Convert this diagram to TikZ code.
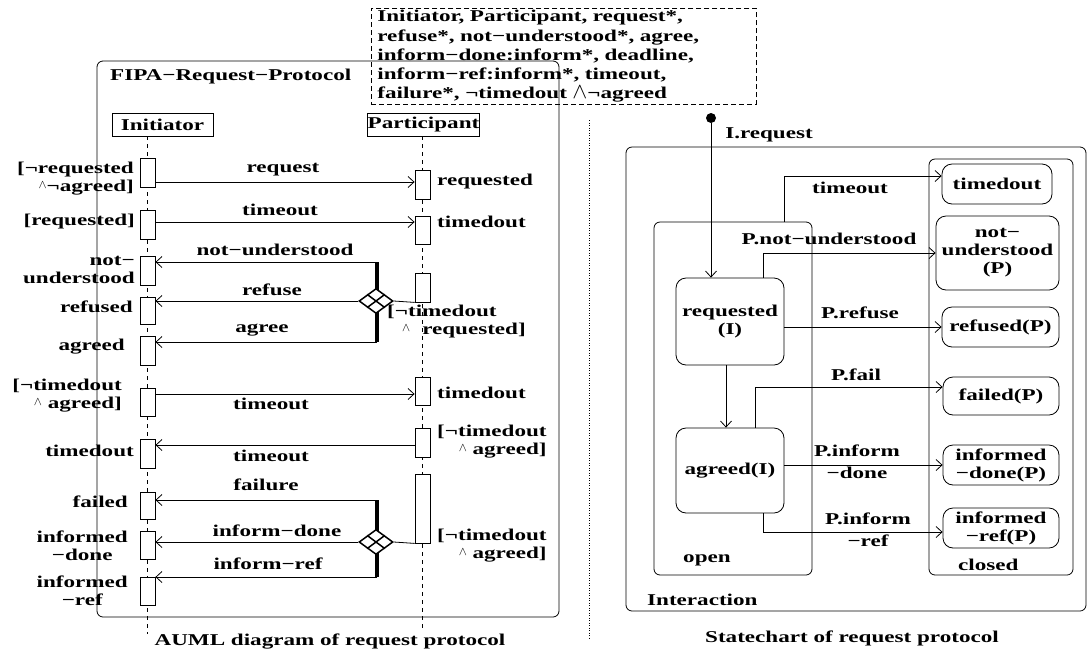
\documentclass[tikz,border=0pt]{standalone}
\usepackage{fontspec}
\setmainfont{Liberation Serif}[FakeStretch=1.4]
\usetikzlibrary{arrows.meta,shapes.geometric,calc}

% small and large conjunction signs used in the guards
\newcommand\wdg{\raisebox{3pt}{\scalebox{0.7}{$\wedge$}}}
\newcommand\Wdg{\scalebox{1.3}{$\wedge$}}

\begin{document}
\begin{tikzpicture}[x=1pt,y=-1pt,
  every node/.style={font=\fontsize{16.5}{18}\selectfont\bfseries, inner sep=0pt},
  lane/.style={dash pattern=on 4pt off 4pt, line width=0.7pt},
  act/.style={draw, fill=white, minimum width=15pt, line width=0.8pt},
  head/.style={draw, minimum height=23pt, line width=0.8pt},
  msg/.style={line width=0.8pt, -{Straight Barb[length=6pt,width=11pt]}},
  plain/.style={line width=0.8pt},
  bar/.style={line width=3.2pt},
  split/.style={diamond, draw, fill=white, minimum width=34pt, minimum height=25pt, line width=1.5pt},
  frame/.style={draw, rounded corners=6pt, line width=0.8pt},
  state/.style={draw, rounded corners=10pt, line width=0.8pt, align=center},
  guard/.style={align=right, anchor=east},
  pguard/.style={align=right, anchor=west},
  two/.style={align=center, font=\fontsize{16.5}{22}\selectfont\bfseries}]
\useasboundingbox (0,0) rectangle (1088,657);

% ---------------- declaration box ----------------
\node[draw, dash pattern=on 5pt off 3pt, line width=0.8pt, align=left, anchor=north west,
      text width=373pt, minimum height=96pt, inner xsep=6pt,
      font=\fontsize{16.5}{19.3}\selectfont\bfseries] (decl) at (371,8)
  {Initiator, Participant, request*,\\
   refuse*, not−understood*, agree,\\
   inform−done:inform*, deadline,\\
   inform−ref:inform*, timeout,\\
   failure*, ¬timedout \Wdg¬agreed};

% ---------------- AUML sequence diagram ----------------
\draw[frame] (97,61) rectangle (559,617);
\node[anchor=west] (proto) at (110,77) {FIPA−Request−Protocol};

\node[head, minimum width=101pt] (init) at (162.5,124.5) {Initiator};
\node[head, minimum width=105pt] (part) at (423.5,124.5) {Participant};

\coordinate (ilane) at (147.5,136);
\coordinate (plane) at (422.5,136);
\draw[lane] (ilane) -- (ilane |- 0,634);
\draw[lane] (plane) -- (plane |- 0,630);

% activations of the initiator
\node[act, minimum height=29pt] (i1) at (147.5,172.5) {};
\node[act, minimum height=29pt] (i2) at (147.5,224.5) {};
\node[act, minimum height=29pt] (i3) at (147.5,270.5) {};
\node[act, minimum height=27pt] (i4) at (147.5,310.5) {};
\node[act, minimum height=29pt] (i5) at (147.5,350.5) {};
\node[act, minimum height=28pt] (i6) at (147.5,402) {};
\node[act, minimum height=29pt] (i7) at (147.5,453.5) {};
\node[act, minimum height=27pt] (i8) at (147.5,505.5) {};
\node[act, minimum height=28pt] (i9) at (147.5,545) {};
\node[act, minimum height=28pt] (i10) at (147.5,591) {};

% activations of the participant
\node[act, minimum height=29pt] (p1) at (422.5,184.5) {};
\node[act, minimum height=28pt] (p2) at (422.5,230) {};
\node[act, minimum height=29pt] (p3) at (422.5,287.5) {};
\node[act, minimum height=28pt] (p4) at (422.5,391) {};
\node[act, minimum height=29pt] (p5) at (422.5,442.5) {};
\node[act, minimum height=69pt] (p6) at (422.5,508.5) {};

% initiator state labels
\node[guard] (g1) at (134,179) {[¬requested\\\wdg¬agreed]};
\node[guard] (g2) at (135,222) {[requested]};
\node[guard] (g3) at (135,270) {not−\\understood};
\node[guard] (g4) at (133,307) {refused};
\node[guard] (g5) at (125,347) {agreed};
\node[guard] (g6) at (122,396) {[¬timedout\\\wdg\ agreed]};
\node[guard] (g7) at (134,451) {timedout};
\node[guard] (g8) at (128,502) {failed};
\node[guard, align=center] (g9) at (128,546) {informed\\−done};
\node[guard, align=center] (g10) at (128,591) {informed\\−ref};

% participant state labels
\node[pguard] (q1) at (437,182) {requested};
\node[pguard] (q2) at (437,222) {timedout};
\node[pguard] (q4) at (437,393) {timedout};
\node[pguard] (q5) at (437,442) {[¬timedout\\\wdg\ agreed]};
\node[pguard] (q6) at (437,546) {[¬timedout\\\wdg\ agreed]};

% request / timeout messages
\draw[msg] (i1.east |- 0,182) -- (p1.west |- 0,182);
\node (m1) at (283,170) {request};
\draw[msg] (i2.east |- 0,222) -- (p2.west |- 0,222);
\node (m2) at (280,210) {timeout};

% first choice: not-understood / refuse / agree
\coordinate (b1t) at (377,262);
\coordinate (b1b) at (377,342);
\draw[bar] (b1t) -- (b1b);
\draw[msg] (b1t) -- (i3.east |- b1t);
\draw[msg] (b1b) -- (i5.east |- b1b);
\node[split] (d1) at (376,301) {};
\draw[line width=1.5pt] ($(d1.north)!0.5!(d1.west)$) -- ($(d1.south)!0.5!(d1.east)$)
                        ($(d1.north)!0.5!(d1.east)$) -- ($(d1.south)!0.5!(d1.west)$);
\draw[msg] (d1.west) -- (i4.east |- d1.west);
\draw[plain] (d1.east) -- (p3.south west);
\node (m3) at (275,250) {not−understood};
\node (m4) at (272,290) {refuse};
\node (m5) at (262,330) {agree};
\node[anchor=west, align=left] (c1) at (387,321.5) {[¬timedout\\\hspace{15pt}\wdg\hspace{12pt}requested]};

% deadline
\draw[msg] (i6.east |- 0,394) -- (p4.west |- 0,394);
\node (m6) at (271,404) {timeout};
\draw[msg] (p5.west |- 0,445) -- (i7.east |- 0,445);
\node (m7) at (271,456) {timeout};

% second choice: failure / inform-done / inform-ref
\coordinate (b2t) at (377,500);
\coordinate (b2b) at (377,577);
\draw[bar] (b2t) -- (b2b);
\draw[msg] (b2t) -- (i8.east |- b2t);
\draw[msg] (b2b) -- (i10.east |- b2b);
\node[split] (d2) at (376,542) {};
\draw[line width=1.5pt] ($(d2.north)!0.5!(d2.west)$) -- ($(d2.south)!0.5!(d2.east)$)
                        ($(d2.north)!0.5!(d2.east)$) -- ($(d2.south)!0.5!(d2.west)$);
\draw[msg] (d2.west) -- (i9.east |- d2.west);
\draw[plain] (d2.east) -- (p6.south west);
\node (m8) at (266,485) {failure};
\node (m9) at (277,531) {inform−done};
\node (m10) at (268,564) {inform−ref};

\node (capL) at (330,642) {AUML diagram of request protocol};

% separator
\draw[dash pattern=on 1pt off 1.5pt, line width=0.8pt] (589,120) -- (589,640);

% ---------------- statechart ----------------
\node[frame, minimum width=460pt, minimum height=464pt] (inter) at (856,379) {};
\node[frame, minimum width=158pt, minimum height=353pt] (openf) at (733,398.5) {};
\node[frame, minimum width=144pt, minimum height=416pt] (closedf) at (1001,367) {};
\node[anchor=west] (interl) at (647,600) {Interaction};
\node[anchor=west] (openl) at (683,560) {open};
\node[anchor=west] (closedl) at (958,565) {closed};

\node[state, minimum width=108pt, minimum height=87pt] (req) at (730,321.5) {requested\\(I)};
\node[state, minimum width=108pt, minimum height=85pt] (agr) at (730,470.5) {agreed(I)};
\node[state, minimum width=110pt, minimum height=40pt] (sto) at (997,184) {timedout};
\node[state, minimum width=123pt, minimum height=74pt] (snu) at (997.5,253) {not−\\understood\\(P)};
\node[state, minimum width=117pt, minimum height=40pt] (srf) at (1000.5,327) {refused(P)};
\node[state, minimum width=116pt, minimum height=38pt] (sfl) at (1001,396) {failed(P)};
\node[state, minimum width=116pt, minimum height=40pt] (sid) at (1001,465) {informed\\−done(P)};
\node[state, minimum width=116pt, minimum height=40pt] (sir) at (1001,528) {informed\\−ref(P)};

\node[circle, fill, minimum size=10pt] (start) at (711,118) {};
\draw[msg] (start.south) -- (start.south |- req.north);
\node (ireq) at (769,135) {I.request};

\draw[msg] ($(req.south)+(-4,0)$) -- ($(agr.north)+(-4,0)$);

\draw[msg] (req.east |- openf.north) |- (sto.west |- 0,176);
\node (t1) at (850,188) {timeout};
\draw[msg] ($(req.north)+(33,0)$) |- (snu.west);
\node (t2) at (829,239) {P.not−understood};
\draw[msg] (req.east |- srf.west) -- (srf.west);
\node (t3) at (860,313) {P.refuse};
\draw[msg] ($(agr.north)+(25,0)$) |- (sfl.west |- 0,387);
\node (t4) at (856,375) {P.fail};
\draw[msg] (agr.east |- sid.west) -- (sid.west);
\node[two] (t5) at (857,462) {P.inform\\−done};
\draw[msg] ($(agr.south)+(33,0)$) |- (sir.west |- 0,532);
\node[two] (t6) at (868,530) {P.inform\\−ref};

\node (capR) at (852,638) {Statechart of request protocol};
\end{tikzpicture}
\end{document}
